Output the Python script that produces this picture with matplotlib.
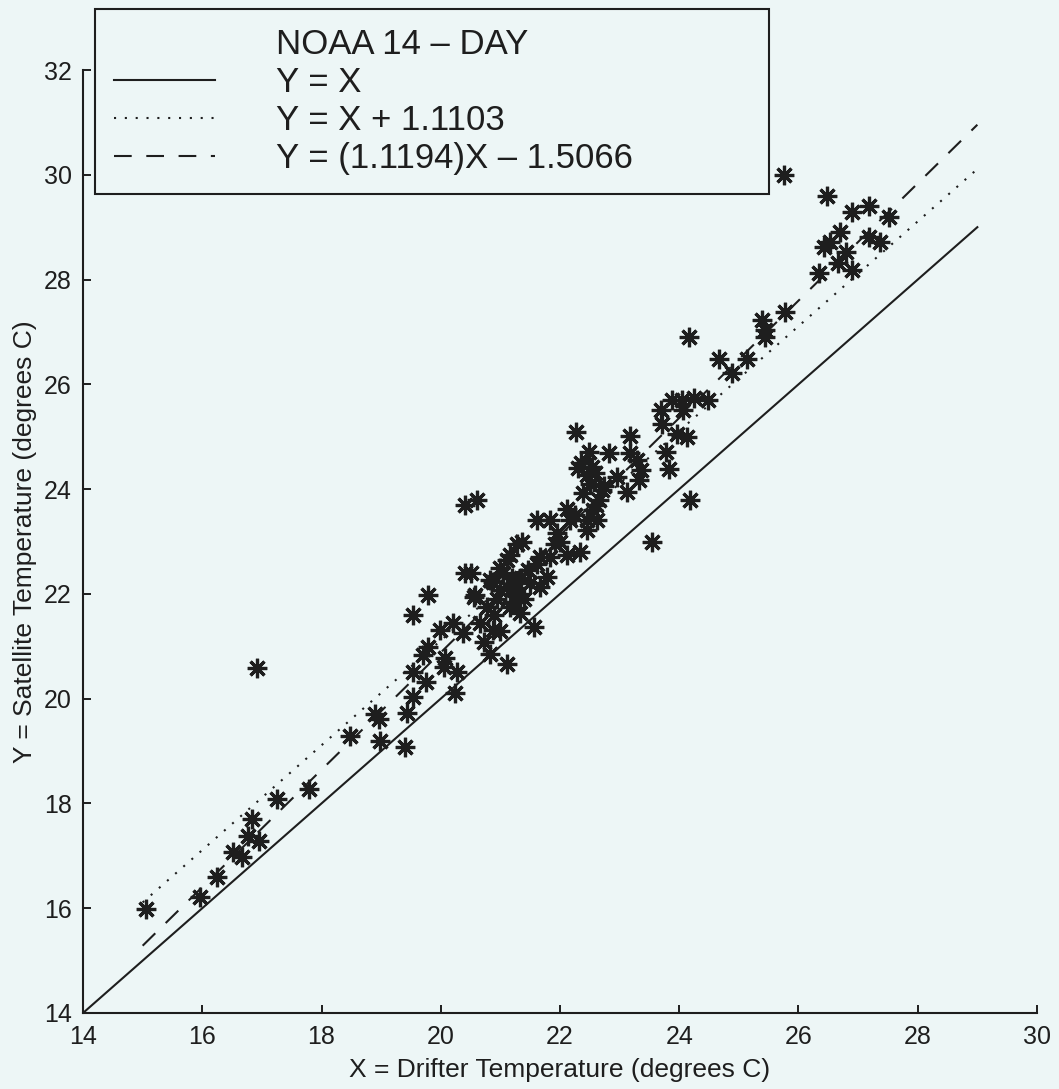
import numpy as np
import matplotlib
matplotlib.use('Agg')
import matplotlib.pyplot as plt
from matplotlib.lines import Line2D

plt.rcParams['font.family'] = ['Liberation Sans', 'DejaVu Sans']

# drifter (x) vs satellite (y) temperatures
drifter = [15.05, 15.96, 16.25, 16.52, 16.66, 16.76, 16.84, 16.95, 17.26, 17.79, 16.91,
           18.47, 18.90, 18.97, 18.98, 19.40, 19.43, 19.54, 19.76, 19.54, 19.71, 19.79,
           19.54, 19.79, 20.05, 20.07, 20.27, 20.24, 19.99, 20.21, 20.38, 20.41, 20.50,
           20.41, 20.60, 20.58, 20.55, 20.66, 20.72, 20.83, 20.88, 21.11, 20.77, 20.83,
           21.00, 21.16, 21.33, 21.56, 21.11, 21.28, 21.67, 21.78, 20.88, 21.11, 21.67,
           21.47, 21.61, 21.16, 21.84, 21.92, 21.36, 21.95, 22.12, 22.34, 22.45, 21.61,
           21.84, 22.17, 22.45, 22.62, 22.12, 22.39, 22.73, 22.45, 22.59, 22.95, 23.32,
           23.12, 22.70, 22.49, 22.83, 23.18, 23.29, 23.36, 22.53, 22.27, 23.18, 23.54,
           24.18, 21.00, 21.20, 21.30, 21.40, 21.50, 20.90, 21.00, 22.30, 22.50, 22.60,
           21.05, 21.20, 21.35, 20.95, 21.25, 22.00, 22.25, 22.55, 22.65, 22.35,
           23.69, 23.71, 23.88, 24.04, 24.24, 24.49, 24.07, 23.96, 24.13, 23.77, 23.82,
           24.16, 24.66, 24.88, 25.13, 25.39, 25.44, 25.44, 25.78, 26.34, 26.42, 26.53,
           26.70, 26.79, 26.67, 26.90, 27.18, 27.37, 26.48, 26.90, 27.19, 27.51, 25.75]
satellite = [15.98, 16.22, 16.59, 17.08, 16.97, 17.38, 17.70, 17.29, 18.08, 18.27, 20.58,
             19.29, 19.70, 19.62, 19.19, 19.08, 19.72, 20.04, 20.32, 20.51, 20.83, 20.99,
             21.60, 21.98, 20.61, 20.77, 20.51, 20.10, 21.31, 21.44, 21.25, 22.39, 22.40,
             23.69, 23.80, 21.98, 21.95, 21.44, 21.09, 20.86, 21.31, 20.67, 21.75, 22.26,
             22.07, 21.75, 21.63, 21.37, 22.65, 22.96, 22.71, 22.33, 22.23, 22.14, 22.14,
             22.45, 22.58, 22.74, 22.71, 22.96, 23.00, 23.16, 22.74, 22.80, 23.22, 23.41,
             23.41, 23.41, 23.41, 23.41, 23.63, 23.92, 24.05, 24.27, 24.30, 24.23, 24.17,
             23.95, 23.98, 24.71, 24.68, 24.68, 24.55, 24.36, 24.42, 25.09, 25.01, 23.00,
             23.79, 22.50, 22.30, 22.00, 21.90, 22.20, 21.60, 21.30, 24.40, 24.10, 23.70,
             22.40, 22.10, 22.30, 21.90, 21.85, 23.00, 23.50, 23.60, 23.80, 24.50,
             25.51, 25.25, 25.70, 25.70, 25.73, 25.70, 25.51, 25.06, 25.00, 24.71, 24.39,
             26.91, 26.49, 26.21, 26.49, 27.23, 27.03, 26.91, 27.38, 28.12, 28.62, 28.72,
             28.91, 28.53, 28.31, 28.18, 28.81, 28.72, 29.59, 29.29, 29.40, 29.20, 29.99]

bias = 1.1103
slope = 1.1194
intercept = -1.5066

bg = '#edf6f6'
ink = '#1e1e1e'

fig = plt.figure(figsize=(10.59, 10.89), dpi=100, facecolor=bg)
ax = fig.add_axes([0.0784, 0.0698, 0.9008, 0.8659])
ax.set_facecolor('none')

x_one = np.array([14, 29])
x_fit = np.array([15, 29])
ax.plot(x_one, x_one, color=ink, lw=1.5, label='Y = X')
ax.plot(x_fit, x_fit + bias, color=ink, lw=1.5, linestyle=(0, (1, 4.2)),
        label='Y = X + 1.1103')
ax.plot(x_fit, slope * x_fit + intercept, color=ink, lw=1.5, linestyle=(0, (8.5, 7)),
        label='Y = (1.1194)X – 1.5066')

ax.plot(drifter, satellite, linestyle='none', marker=(8, 2, 0), markersize=14,
        markeredgewidth=2.3, color=ink, zorder=5)

ax.set_xlim(14, 30)
ax.set_ylim(14, 32)
ax.set_xticks(range(14, 31, 2))
ax.set_yticks(range(14, 33, 2))
ax.tick_params(direction='in', length=6, width=1.4, labelsize=18, colors=ink)
ax.tick_params(axis='x', pad=9)
ax.tick_params(axis='y', pad=8)
for side in ['top', 'right']:
    ax.spines[side].set_visible(False)
for side in ['left', 'bottom']:
    ax.spines[side].set_linewidth(1.5)
    ax.spines[side].set_color(ink)

ax.set_xlabel('X = Drifter Temperature (degrees C)', fontsize=19, color=ink, labelpad=6)
ax.set_ylabel('Y = Satellite Temperature (degrees C)', fontsize=19, color=ink, labelpad=5)

handles, labels = ax.get_legend_handles_labels()
title_handle = Line2D([], [], linestyle='none')
leg = ax.legend([title_handle] + handles, ['NOAA 14 – DAY'] + labels,
                loc='upper left', mode='expand',
                bbox_to_anchor=(0.0897, 0.8209, 0.6364, 0.1708),
                bbox_transform=fig.transFigure, borderaxespad=0,
                fontsize=25, handlelength=2.9, handletextpad=1.75,
                labelspacing=0.14, borderpad=0.55, fancybox=False,
                framealpha=1, facecolor=bg, edgecolor=ink)
leg.get_frame().set_linewidth(1.5)
for t in leg.get_texts():
    t.set_color(ink)

fig.savefig('out.png', dpi=100, facecolor=bg)
